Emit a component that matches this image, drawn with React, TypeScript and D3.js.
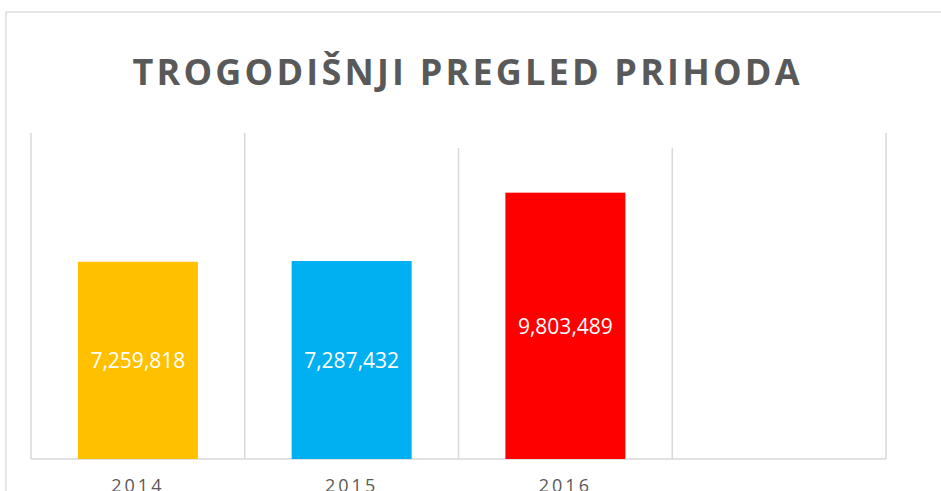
import React from "react";
import * as d3 from "d3";

const categories = ["2014", "2015", "2016", ""];
const values = [7259818, 7287432, 9803489, null];
const colors = ["#FFC000", "#00B0F0", "#FF0000", "#FFFFFF"];
const titleText = "TROGODIŠNJI PREGLED PRIHODA";

export default function App() {
  const W = 941, H = 491;
  const left = 31, right = 886, top = 133, bottom = 459;
  const x = d3.scaleBand<string>().domain(categories.map((c, i) => String(i))).range([left, right]).paddingInner(0).paddingOuter(0);
  const y = d3.scaleLinear().domain([0, 12000000]).range([bottom, top]);
  const barW = 120;
  const fmt = d3.format(",");
  const bounds = categories.map((c, i) => x(String(i))!).concat([right]);
  return (
    <svg width={W} height={H} style={{ position: "absolute", left: 0, top: 0, background: "#fff" }}>
      <rect x={6} y={12} width={W} height={H} fill="#fff" stroke="#d9d9d9" strokeWidth={1.3} />
      <text x={466} y={85} textAnchor="middle" fontFamily="'Open Sans', sans-serif" fontWeight={700} fontSize={36} fill="#595959" textLength={667} lengthAdjust="spacing">{titleText}</text>
      {bounds.map((bx, i) => (
        <line key={i} x1={bx} x2={bx} y1={i === 2 || i === 3 ? 148 : top} y2={bottom} stroke="#d9d9d9" strokeWidth={1.5} />
      ))}
      <line x1={left} x2={right} y1={bottom} y2={bottom} stroke="#d9d9d9" strokeWidth={1.5} />
      {values.map((v, i) => v == null ? null : (
        <g key={i}>
          <rect x={x(String(i))! + x.bandwidth() / 2 - barW / 2} y={y(v)} width={barW} height={bottom - y(v)} fill={colors[i]} />
          <text x={x(String(i))! + x.bandwidth() / 2} y={(y(v) + bottom) / 2 + 8} textAnchor="middle" fontFamily="'Open Sans', sans-serif" fontSize={21} fill="#fff" textLength={95} lengthAdjust="spacingAndGlyphs">{fmt(v)}</text>
        </g>
      ))}
      {categories.map((c, i) => c ? (
        <text key={i} x={x(String(i))! + x.bandwidth() / 2} y={492} textAnchor="middle" fontFamily="'Open Sans', sans-serif" fontSize={18} fill="#595959" letterSpacing={3}>{c}</text>
      ) : null)}
    </svg>
  );
}
